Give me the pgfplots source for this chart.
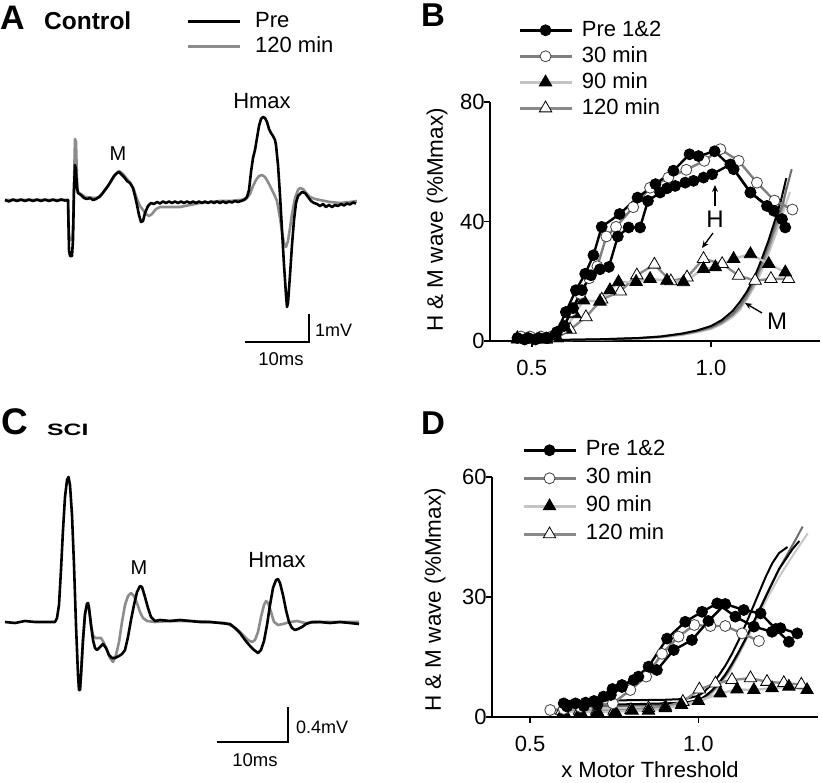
\documentclass[border=0pt]{standalone}
\usepackage{fontspec}
\setmainfont{Liberation Sans}
\usepackage{graphicx}
\usepackage{pgfplots}
\pgfplotsset{compat=1.18}
\usetikzlibrary{arrows.meta}
\definecolor{tr}{HTML}{8C8C8C}
\definecolor{g30}{HTML}{808080}
\definecolor{g90}{HTML}{C4C4C4}
\definecolor{g120}{HTML}{8A8A8A}
\definecolor{mdk}{HTML}{6E6E6E}
\definecolor{mmd}{HTML}{9A9A9A}
\definecolor{mlt}{HTML}{C8C8C8}
\newcommand\fs[1]{\fontsize{#1bp}{#1bp}\selectfont}
\pgfplotsset{
  trace/.style={hide axis, scale only axis, clip=false, y dir=reverse},
  leg/.style={legend style={draw=none, fill=none, font=\fs{22}, inner sep=0pt, row sep=5bp,
      nodes={inner sep=0pt, text height=16bp, text depth=4.5bp},
      /tikz/every odd column/.append style={column sep=14bp}},
    legend cell align=left},
  hm/.style={scale only axis, clip=false, axis x line=bottom, axis y line=left,
    axis line style={-, line width=1.5bp}, tick align=outside, major tick length=6bp,
    tick style={line width=1.5bp, black}, /pgf/number format/assume math mode=true,
    tick label style={font=\fs{22}}, xtick={0.5,1.0}, xticklabels={0.5,1.0},
    xticklabel style={yshift=-10bp}, yticklabel style={xshift=4bp},
    leg, reverse legend, legend style={/tikz/every odd column/.append style={column sep=9bp}},
    legend image post style={line width=2.6bp},
    legend image code/.code={\draw[mark repeat=2, mark phase=2] plot coordinates {(0bp,0bp)(26bp,0bp)(52bp,0bp)};}},
  pre/.style={black, line width=2.4bp, mark=*, mark size=5.5bp, mark options={solid, fill=black, draw=black, line width=0.8bp}},
  s30/.style={g30, line width=2.4bp, mark=*, mark size=5.5bp, mark options={solid, fill=white, draw=black!75, line width=0.8bp}},
  s90/.style={g90, line width=2.4bp, mark=triangle*, mark size=7.2bp, mark options={solid, fill=black, draw=black, line width=0.8bp}},
  s120/.style={g120, line width=2.4bp, mark=triangle*, mark size=7.2bp, mark options={solid, fill=white, draw=black, line width=0.8bp}},
  mc/.style={line width=2bp, no marks, forget plot},
}
\begin{document}
\begin{tikzpicture}[x=1bp,y=1bp]
\path[use as bounding box] (0,0) rectangle (822,783);
% ---------------- Panel A ----------------
\begin{axis}[trace, at={(0bp,393bp)}, anchor=south west, width=400bp, height=390bp,
  xmin=0, xmax=400, ymin=0, ymax=390, leg, reverse legend,
  legend style={at={(axis cs:186,11)}, anchor=north west},
  legend image post style={line width=3bp},
  legend image code/.code={\draw plot coordinates {(0bp,0bp)(52bp,0bp)};}]
\addplot[tr, line width=2.6bp, line join=round] coordinates {
(5,200)(20,200)(40,200)(60,200)(68,200)(69,235)(70,240)(72,240)(73,228)(74,185)(75,139)(76,142)(77,180)(78,192)(85,197)(95,198)(100,197)(105,190)(110,183)(115,175)(119,171)(123,174)(127,179)(131,184)(134,190)(137,199)(140,206)(143,210)(146,214)(149,216)(152,214)(156,209)(160,207)(170,207)(180,207)(190,205)(200,203)(210,202)(220,201)(230,201)(240,200)(246,199)(250,194)(253,186)(256,180)(259,176)(262,175)(265,177)(268,182)(271,188)(274,194)(277,201)(280,218)(282,232)(284,243)(286,247)(288,241)(290,228)(292,214)(295,198)(298,190)(300,188)(303,189)(306,193)(310,197)(315,199)(320,200)(330,202)(340,203)(350,202)(357,201)};
\addlegendentry{120 min}
\addplot[black, line width=2.6bp, line join=round] coordinates {
(5,200)(9,201.5)(13,199.5)(17,201)(21,199.5)(25,201)(29,199.5)(33,201)(37,199.5)(41,201)(45,199.5)(49,201)(53,199.5)(57,201)(61,199.5)(65,200.5)(68,200)(69,250)(70,256)(72,256)(73,240)(74,190)(75,165)(76,170)(77,188)(78,193)(81,195)(84,198)(87,199)(90,198)(93,200)(96,199)(99,197)(102,194)(105,190)(108,186)(111,181)(114,176)(117,173)(119,172)(121,174)(124,177)(127,181)(130,183)(133,188)(135,196)(137,205)(139,215)(141,222)(143,221)(145,213)(148,206)(151,203)(154,204)(157,202)(160,203.5)(163,201.5)(166,203)(169,201.5)(172,203)(175,201.5)(178,203)(181,201.5)(184,203)(187,201.5)(190,203)(193,201.5)(196,203)(199,201.5)(202,203)(205,201.5)(208,203)(211,201.5)(214,203)(217,201.5)(220,203)(223,201.5)(226,203)(229,201.5)(232,202.5)(235,201)(238,202)(241,201)(244,200)(247,197)(249,190)(251,172)(253,158)(255,150)(257,138)(259,126)(261,119)(263,117)(265,118)(267,122)(269,129)(271,133)(273,136)(275,140)(276,145)(278,165)(280,195)(282,230)(284,265)(286,295)(287,307)(288,303)(290,275)(292,245)(294,220)(296,203)(298,196)(300,194)(302,192)(305,193)(308,197)(311,201)(314,203)(317,204)(320,206)(323,204)(326,207)(329,205)(332,207)(335,205)(338,206)(341,204)(344,205.5)(347,203.5)(350,204.5)(353,202.5)(356,203.5)};
\addlegendentry{Pre}
\addplot[black, line width=1.5bp, forget plot] coordinates {(245,342)(309,342)(309,314)};
\node[font=\fs{20}] at (axis cs:118,154) {M};
\node[font=\fs{22}] at (axis cs:262,101) {Hmax};
\node[font=\fs{18}, anchor=west, inner sep=0pt] at (axis cs:315,330) {1mV};
\node[font=\fs{18.5}] at (axis cs:281,359) {10ms};
\end{axis}
\node[anchor=base west, inner sep=0pt, font=\fs{34}\bfseries] at (0,753) {A};
\node[anchor=base west, inner sep=0pt, font=\fs{24.5}\bfseries] at (44,753) {Control};
% ---------------- Panel C ----------------
\begin{axis}[trace, at={(0bp,0bp)}, anchor=south west, width=400bp, height=388bp,
  xmin=0, xmax=400, ymin=395, ymax=783]
\addplot[tr, line width=2.6bp, line join=round] coordinates {
(80,690)(81,675)(83,640)(85,614)(87,604)(88,603)(89,608)(91,625)(93,635)(95,638)(98,638)(101,638)(104,643)(107,650)(110,658)(113,662)(116,655)(119,642)(122,622)(125,605)(128,596)(131,593)(134,596)(137,603)(140,612)(143,618)(147,621)(155,622)(170,621)(190,621)(210,622)(225,623)(232,626)(238,630)(244,636)(248,640)(252,642)(255,640)(258,632)(261,617)(264,605)(266,601)(268,603)(271,612)(274,622)(278,625)(283,624)(290,622)(297,621)(305,623)(320,622)(340,622)(359,622)};
\addplot[black, line width=2.6bp, line join=round] coordinates {
(5,622)(15,623)(25,621)(35,622)(45,622)(55,622)(57,618)(59,605)(61,570)(63,530)(65,497)(67,480)(68.5,477)(70,485)(72,515)(74,565)(76,625)(78,675)(79,690)(80,690)(81,675)(83,640)(85,614)(87,604)(88,603)(89,608)(91,625)(93,640)(95,648)(97,650)(100,647)(103,644)(106,648)(109,655)(112,658)(115,658)(119,656)(122,654)(125,650)(128,637)(131,620)(134,605)(137,592)(140,586)(142,587)(145,597)(148,608)(151,617)(155,621)(160,620)(170,621)(180,620)(190,621)(200,622)(210,622)(220,623)(230,624)(235,628)(240,633)(245,640)(250,646)(254,650)(258,653)(261,650)(264,641)(267,625)(270,605)(273,588)(276,580)(278,579)(280,583)(283,595)(286,610)(289,622)(292,628)(295,630)(298,629)(302,627)(306,624)(312,622)(320,622)(330,623)(340,622)(350,623)(359,624)};
\addplot[black, line width=1.5bp] coordinates {(217,742)(288,742)(288,707)};
\node[font=\fs{20}] at (axis cs:139,568) {M};
\node[font=\fs{22}] at (axis cs:277,560) {Hmax};
\node[font=\fs{18}, anchor=west, inner sep=0pt] at (axis cs:296,727) {0.4mV};
\node[font=\fs{18.5}] at (axis cs:255,760) {10ms};
\end{axis}
\node[anchor=base west, inner sep=0pt, font=\fs{37}\bfseries] at (1,348) {C};
\node[anchor=base west, inner sep=0pt, font=\fs{16.5}\bfseries] at (47,347) {\scalebox{1.5}[1]{SCI}};
% ---------------- Panel B ----------------
\begin{axis}[hm, at={(490bp,442bp)}, anchor=south west, width=330bp, height=239bp,
  xmin=0.3835, xmax=1.304, ymin=0, ymax=80, ytick={0,40,80},
  legend style={at={(axis cs:0.4617,107.5)}, anchor=north west, row sep=5.5bp}]
% M curves
\addplot[mc, mlt] coordinates {(0.46,0.2)(0.6,0.3)(0.7,0.5)(0.8,0.8)(0.86,1.2)(0.92,2)(0.96,2.9)(1.0,4)(1.03,5.6)(1.06,8)(1.08,10.3)(1.10,14)(1.12,18)(1.14,23)(1.16,29)(1.18,35.5)(1.20,42.5)(1.22,49.9)};
\addplot[mc, mmd] coordinates {(0.46,0.2)(0.6,0.3)(0.7,0.5)(0.8,0.9)(0.86,1.3)(0.92,2.2)(0.96,3.1)(1.0,4.3)(1.03,6)(1.06,8.6)(1.08,11)(1.10,14.5)(1.12,19)(1.14,24.5)(1.16,30.5)(1.18,37.5)(1.20,44.5)(1.21,51.6)};
\addplot[mc, mdk] coordinates {(0.46,0.3)(0.6,0.4)(0.7,0.6)(0.8,1)(0.86,1.5)(0.92,2.4)(0.96,3.3)(1.0,4.6)(1.03,6.4)(1.06,9)(1.08,11.7)(1.10,15.5)(1.12,20)(1.14,25.5)(1.16,32)(1.18,39)(1.20,46)(1.225,57.5)};
\addplot[mc, black] coordinates {(0.46,0.3)(0.6,0.4)(0.7,0.6)(0.8,1)(0.86,1.5)(0.92,2.5)(0.96,3.5)(1.0,5)(1.03,7)(1.06,10)(1.08,13)(1.10,16.5)(1.12,21)(1.14,27)(1.16,33.5)(1.18,41)(1.195,47)(1.21,54.5)};
% H curves
\addplot[s120] coordinates {(0.46,1)(0.50,0.5)(0.54,0.5)(0.57,1)(0.607,3.8)(0.651,8)(0.695,13.9)(0.747,16.6)(0.793,22)(0.842,25.6)(0.888,20)(0.933,21.3)(0.979,27.5)(1.031,25.8)(1.077,21.9)(1.123,20.2)(1.167,20.8)(1.216,20.8)};
\addplot[s90] coordinates {(0.46,0.5)(0.50,0.5)(0.54,0.5)(0.57,1)(0.595,4)(0.62,9)(0.644,13.6)(0.69,13.2)(0.718,17)(0.742,19.7)(0.791,19.8)(0.83,20.8)(0.877,20.2)(0.923,19.7)(0.979,24.1)(1.012,24.7)(1.063,27.5)(1.11,29.1)(1.161,25.8)(1.207,23)};
\addplot[s30] coordinates {(0.47,1.5)(0.495,1.5)(0.525,1.5)(0.555,1.5)(0.585,4)(0.61,10)(0.635,15.8)(0.66,21)(0.683,25)(0.708,35)(0.735,38.2)(0.783,44.8)(0.83,51.3)(0.881,54.7)(0.931,57.3)(0.981,60.3)(1.026,64.2)(1.077,60.3)(1.128,53)(1.177,47)(1.227,44)};
\addplot[pre, forget plot] coordinates {(0.48,0.5)(0.51,0.5)(0.54,1)(0.565,2)(0.59,5)(0.615,11)(0.64,17)(0.665,22)(0.69,24)(0.715,24.8)(0.74,35)(0.77,38)(0.802,38)(0.824,46.9)(0.858,49.7)(0.877,51.1)(0.90,51.9)(0.928,53)(0.951,53.6)(0.979,54.7)(1.003,55.8)(1.054,59.1)(1.11,49.7)(1.175,43.6)(1.198,40.8)};
\addplot[pre] coordinates {(0.46,1)(0.49,1)(0.52,1)(0.545,1)(0.57,3)(0.595,9.7)(0.623,17)(0.649,22.5)(0.672,28.7)(0.695,38.2)(0.745,42.5)(0.795,48)(0.845,52.5)(0.895,57)(0.94,62.5)(0.965,61.9)(1.01,63.5)(1.063,57.5)(1.11,49.7)(1.156,45.2)(1.207,38)};
\legend{120 min,90 min,30 min,Pre 1\&2}
\end{axis}
% ---------------- Panel D ----------------
\begin{axis}[hm, at={(492bp,66bp)}, anchor=south west, width=326bp, height=240bp,
  xmin=0.387, xmax=1.3556, ymin=0, ymax=60, ytick={0,30,60},
  legend style={at={(axis cs:0.4762,69.3)}, anchor=north west, row sep=7.5bp}]
\addplot[mc, mlt] coordinates {(0.60,2)(0.70,2.1)(0.80,2.3)(0.90,2.6)(0.96,3)(1.00,3.6)(1.03,5)(1.06,7.5)(1.09,11)(1.12,15.5)(1.15,20.5)(1.18,25.5)(1.21,30.5)(1.24,35)(1.27,39)(1.30,42.8)(1.325,45.9)};
\addplot[mc, mdk] coordinates {(0.60,2.5)(0.70,2.6)(0.80,2.8)(0.90,3.0)(0.96,3.3)(1.00,4.0)(1.03,5.5)(1.06,8)(1.09,11.5)(1.12,16)(1.15,21)(1.18,26.5)(1.21,32)(1.24,37)(1.27,41.5)(1.29,44.5)(1.31,47.6)};
\addplot[mc, black] coordinates {(0.60,3)(0.70,3.1)(0.80,3.2)(0.90,3.4)(0.96,3.6)(1.00,4.2)(1.02,5.2)(1.04,6.6)(1.06,8.4)(1.08,10.6)(1.10,13.3)(1.12,16.3)(1.14,19.5)(1.16,23)(1.18,26.5)(1.20,30)(1.22,33.5)(1.24,37)(1.26,39.5)(1.28,42)(1.30,44)};
\addplot[mc, black] coordinates {(0.60,4)(0.70,4.1)(0.80,4.2)(0.90,4.3)(0.96,4.5)(1.00,5.3)(1.02,6.5)(1.04,8.2)(1.06,10.3)(1.08,12.8)(1.10,15.8)(1.12,19.2)(1.14,23)(1.16,27)(1.18,31)(1.20,35)(1.22,38.5)(1.24,41)(1.265,42.5)};
\addplot[s120] coordinates {(0.594,1.6)(0.647,1.6)(0.698,1.6)(0.75,1.6)(0.80,1.75)(0.852,2.2)(0.902,2.6)(0.954,3.8)(1.003,6.9)(1.051,8.4)(1.10,9.25)(1.155,9.7)(1.204,8.8)(1.254,8.5)(1.306,8.1)};
\addplot[s90] coordinates {(0.60,1.3)(0.65,1.3)(0.70,1.3)(0.753,1.3)(0.803,1.6)(0.852,1.6)(0.902,2.2)(0.95,3)(1.0,4)(1.065,5.9)(1.115,6.9)(1.165,6.75)(1.219,7.2)(1.269,7.6)(1.323,6.75)};
\addplot[s30] coordinates {(0.56,1.75)(0.60,2)(0.65,2.5)(0.697,3)(0.746,3.4)(0.798,6.75)(0.845,10.1)(0.892,15.8)(0.941,20.1)(0.988,23)(1.036,22.75)(1.08,22.75)(1.13,20.9)(1.18,19)};
\addplot[pre, forget plot] coordinates {(0.61,2.6)(0.66,2.7)(0.70,3)(0.74,5.5)(0.773,7.5)(0.822,10.1)(0.877,11.75)(0.927,16.75)(0.981,19.25)(1.03,24)(1.08,28.25)(1.135,26.75)(1.185,25.9)(1.23,22)(1.269,18.8)};
\addplot[pre] coordinates {(0.60,3.4)(0.635,3.4)(0.665,3.6)(0.69,4)(0.718,5.1)(0.745,7)(0.773,8.0)(0.808,9.25)(0.852,12.6)(0.907,19.6)(0.961,23.8)(1.011,26.3)(1.056,28.4)(1.11,25.1)(1.165,22.6)(1.219,21.3)(1.244,22.2)(1.294,20.9)};
\legend{120 min,90 min,30 min,Pre 1\&2}
\end{axis}
\node[anchor=base west, inner sep=0pt, font=\fs{33}\bfseries] at (421,756) {B};
\node[anchor=base west, inner sep=0pt, font=\fs{33}\bfseries] at (421,348) {D};
\node[rotate=90, font=\fs{22.5}] at (437,{783-220}) {H \& M wave (\%Mmax)};
\node[rotate=90, font=\fs{22.5}] at (435,{783-600}) {H \& M wave (\%Mmax)};
\node[font=\fs{22}, anchor=base, inner sep=0pt] at (650,5) {x Motor Threshold};
\node[font=\fs{24}] at (715,{783-219}) {H};
\node[font=\fs{24}] at (777,{783-321}) {M};
\draw[line width=1.3bp, -{Stealth[length=7bp,width=6bp]}] (715,{783-206}) -- (715,{783-185});
\draw[line width=1.3bp, -{Stealth[length=7bp,width=6bp]}] (713,{783-233}) -- (702,{783-248});
\draw[line width=1.3bp, -{Stealth[length=7bp,width=6bp]}] (762,{783-313}) -- (745,{783-303});
\end{tikzpicture}
\end{document}
